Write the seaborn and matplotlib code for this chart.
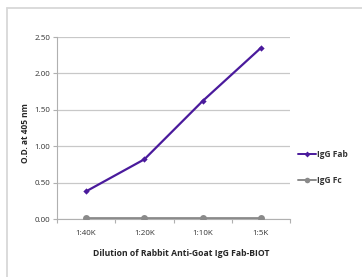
import matplotlib
matplotlib.use('Agg')
import matplotlib.pyplot as plt
import seaborn as sns
import pandas as pd
from matplotlib.lines import Line2D

dilutions = ['1:40K', '1:20K', '1:10K', '1:5K']
igg_fab = [0.38, 0.82, 1.62, 2.35]
igg_fc = [0.01, 0.01, 0.01, 0.01]
y_ticks = [0.0, 0.5, 1.0, 1.5, 2.0, 2.5]

df = pd.DataFrame({'Dilution': dilutions * 2,
                   'OD': igg_fab + igg_fc,
                   'Series': ['IgG Fab'] * 4 + ['IgG Fc'] * 4})
df['pos'] = list(range(4)) * 2

sns.set_style('white')
plt.rcParams['font.family'] = ['Open Sans', 'DejaVu Sans']

fig = plt.figure(figsize=(3.62, 2.77), dpi=100)
ax = fig.add_axes([57 / 362, 1 - 219 / 277, 233 / 362, 182 / 277])

palette = {'IgG Fab': '#4a1a9c', 'IgG Fc': '#8a8a8a'}
sns.lineplot(data=df, x='pos', y='OD', hue='Series', palette=palette, ax=ax,
             marker='o', markersize=4, linewidth=1.6, markeredgewidth=0,
             legend=False, zorder=3)
# Fab markers are diamond-ish
ax.lines[0].set_marker('D')
ax.lines[0].set_markersize(3.2)
ax.lines[1].set_markersize(5)
ax.lines[1].set_linewidth(2)

ax.set_xlim(-0.5, 3.5)
ax.set_ylim(0, 2.5)
ax.set_yticks(y_ticks)
ax.set_yticklabels([f'{v:.2f}' for v in y_ticks])
ax.set_xticks(range(4))
ax.set_xticklabels(dilutions)
ax.set_xticks([-0.5, 0.5, 1.5, 2.5, 3.5], minor=True)
ax.yaxis.grid(True, color='#c8c8c8', linewidth=0.9)
ax.set_axisbelow(True)
for s in ['top', 'right']:
    ax.spines[s].set_visible(False)
ax.spines['left'].set_color('#b0b0b0')
ax.spines['bottom'].set_color('#b0b0b0')
ax.spines['left'].set_linewidth(0.8)
ax.spines['bottom'].set_linewidth(0.8)
ax.tick_params(axis='y', which='major', length=3, width=0.8, color='#b0b0b0',
               labelsize=5.8, labelcolor='#333333', pad=2, left=True)
ax.tick_params(axis='x', which='major', length=0, labelsize=5.8,
               labelcolor='#333333', pad=8)
ax.tick_params(axis='x', which='minor', length=3, width=0.8, color='#b0b0b0',
               bottom=True)

ax.set_ylabel('O.D. at 405 nm', fontsize=6, fontweight='bold')
ax.yaxis.set_label_coords(-0.115, 0.47)
ax.set_xlabel('Dilution of Rabbit Anti-Goat IgG Fab-BIOT', fontsize=6.2,
              fontweight='bold')
ax.xaxis.set_label_coords(0.532, -0.165)

handles = [Line2D([], [], color=palette['IgG Fab'], marker='D', markersize=3,
                  linewidth=1.4, markeredgewidth=0),
           Line2D([], [], color=palette['IgG Fc'], marker='o', markersize=4,
                  linewidth=1.4, markeredgewidth=0)]
leg = ax.legend(handles, ['IgG Fab', 'IgG Fc'], loc='upper left',
                bbox_to_anchor=(1.0, 0.42), frameon=False, fontsize=6,
                handlelength=2.2, handletextpad=0.1, labelspacing=2.0)
for t in leg.get_texts():
    t.set_fontweight('bold')
    t.set_color('#333333')

# frame lines from the cropped source image
fig.add_artist(Line2D([6.5 / 362, 6.5 / 362], [0, 1 - 7.5 / 277], color='#d8d8d8', linewidth=1.3))
fig.add_artist(Line2D([6.5 / 362, 1], [1 - 7.5 / 277, 1 - 7.5 / 277], color='#d8d8d8', linewidth=1.3))

fig.savefig('out.png', dpi=100)
